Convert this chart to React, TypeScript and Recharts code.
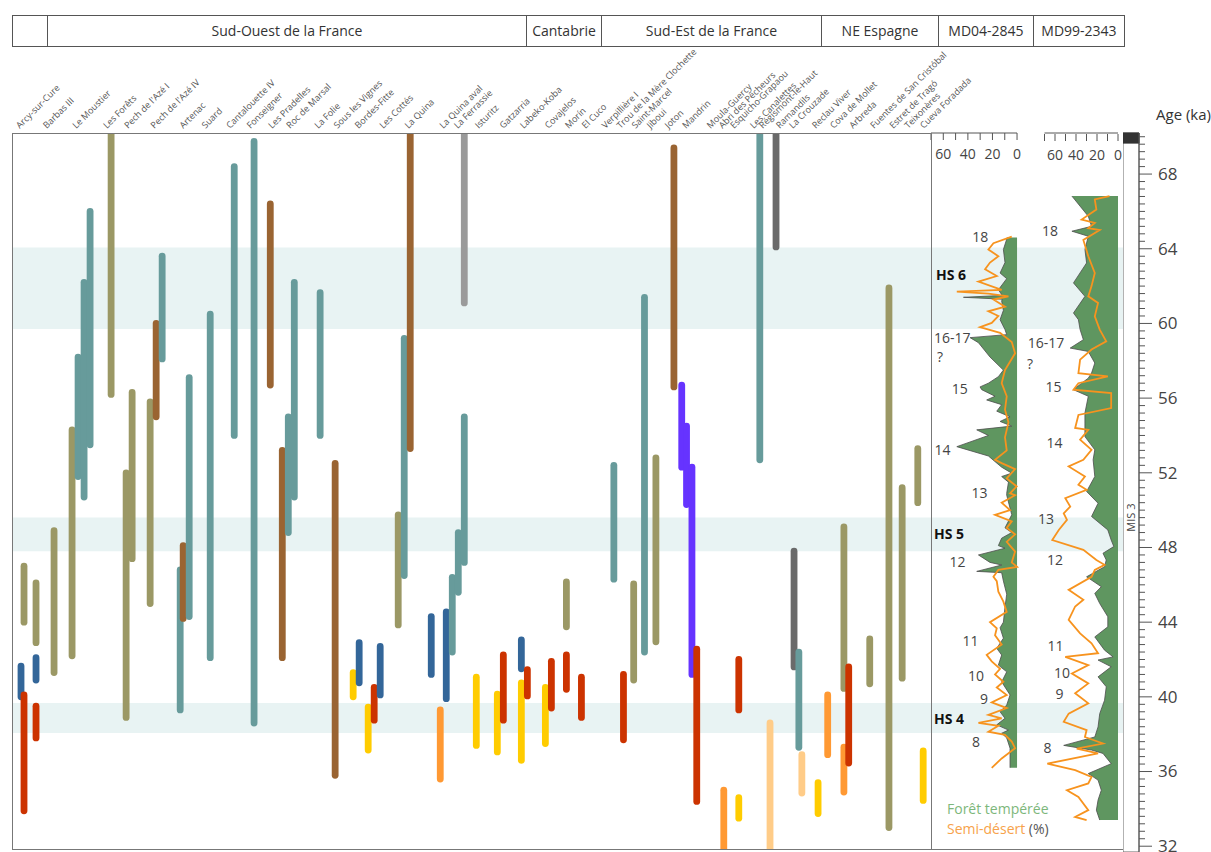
import {
  Area,
  ComposedChart,
  Line,
  ReferenceArea,
  ReferenceDot,
  ReferenceLine,
  XAxis,
  YAxis,
} from 'recharts';

type Kind =
  | 'olive'
  | 'teal'
  | 'brown'
  | 'grey'
  | 'darkgrey'
  | 'blue'
  | 'red'
  | 'yellow'
  | 'orange'
  | 'lightorange'
  | 'purple';

const FONT = '"Open Sans", "Noto Sans", sans-serif';

const kindColors: Record<Kind, string> = {
  olive: '#9b9865',
  teal: '#679b9b',
  brown: '#9a6432',
  grey: '#9a9a9a',
  darkgrey: '#6a6a6a',
  blue: '#336699',
  red: '#cc3300',
  yellow: '#ffcc00',
  orange: '#ff9933',
  lightorange: '#ffcc88',
  purple: '#6633ff',
};

// header row of the figure
const headerCells: [string, number][] = [
  ['', 34],
  ['Sud-Ouest de la France', 479],
  ['Cantabrie', 75],
  ['Sud-Est de la France', 220],
  ['NE Espagne', 117],
  ['MD04-2845', 95],
  ['MD99-2343', 91],
];

// sites along the transect: name, slot
const sites: [string, number][] = [
  ['Arcy-sur-Cure', 1.3],
  ['Barbas III', 5.8],
  ['Le Moustier', 10.7],
  ['Les Forêts', 15.8],
  ["Pech de l'Azé I", 19.3],
  ["Pech de l'Azé IV", 23.7],
  ['Artenac', 28.5],
  ['Suard', 32.2],
  ['Cantalouette IV', 36.3],
  ['Fonseigner', 39.7],
  ['Les Pradelles', 43.3],
  ['Roc de Marsal', 46.3],
  ['La Folie', 51],
  ['Sous les Vignes', 54.2],
  ['Bordes-Fitte', 57.7],
  ['Les Cottés', 61.8],
  ['La Quina', 66],
  ['La Quina aval', 71.8],
  ['La Ferrassie', 74.2],
  ['Isturitz', 77.7],
  ['Gatzarria', 81.8],
  ['Labeko-Koba', 85.2],
  ['Covajelos', 89.3],
  ['Morín', 92.7],
  ['El Cuco', 95.5],
  ['Verpillière I', 98.8],
  ['Trou de la Mère Clochette', 101.3],
  ['Saint-Marcel', 103.8],
  ['Jiboui', 106.3],
  ['Joton', 109.3],
  ['Mandrin', 112.2],
  ['Moula-Guercy', 116.3],
  ['Abri des Pêcheurs', 118.3],
  ['Esquicho-Grapaou', 120.2],
  ['Les Canalettes', 123.5],
  ['Régismont-le-Haut', 125],
  ['Ramandils', 127.8],
  ['La Crouzade', 130],
  ['Reclau Viver', 133.8],
  ['Cova de Mollet', 136.8],
  ['Arbreda', 140],
  ['Fuentes de San Cristóbal', 143.5],
  ['Estret de Tragó', 146.7],
  ['Teixonères', 149.2],
  ['Cueva Foradada', 151.8],
];

// occupation ranges: slot, older age (ka), younger age (ka), kind
const bars: [number, number, number, Kind][] = [
  [2, 47.0, 44.0, 'olive'],
  [1.5, 41.65, 40.0, 'blue'],
  [2, 40.1, 33.9, 'red'],
  [4, 46.1, 42.9, 'olive'],
  [4, 42.1, 40.9, 'blue'],
  [4, 39.5, 37.8, 'red'],
  [7, 48.9, 41.3, 'olive'],
  [10, 54.3, 42.2, 'olive'],
  [11, 58.2, 51.8, 'teal'],
  [12, 62.2, 50.7, 'teal'],
  [13, 66.0, 53.5, 'teal'],
  [16.5, 71, 56.2, 'olive'],
  [19, 52.0, 38.9, 'olive'],
  [20, 56.3, 47.4, 'olive'],
  [23, 55.8, 45.0, 'olive'],
  [24, 60.0, 55.0, 'brown'],
  [25, 63.6, 58.1, 'teal'],
  [28, 46.8, 39.3, 'teal'],
  [28.5, 48.1, 44.2, 'brown'],
  [29.5, 57.1, 44.3, 'teal'],
  [33, 60.5, 42.1, 'teal'],
  [37, 68.4, 54.0, 'teal'],
  [40.3, 69.75, 38.6, 'teal'],
  [43, 66.4, 56.7, 'brown'],
  [45, 53.2, 42.1, 'brown'],
  [46, 55.0, 48.8, 'teal'],
  [47, 62.2, 50.7, 'teal'],
  [51.3, 61.65, 54.0, 'teal'],
  [53.8, 52.5, 35.8, 'brown'],
  [56.8, 41.3, 40.0, 'yellow'],
  [57.8, 42.9, 40.75, 'blue'],
  [59.3, 39.45, 37.15, 'yellow'],
  [60.3, 40.5, 38.75, 'red'],
  [61.3, 42.7, 40.1, 'blue'],
  [64.3, 49.75, 43.85, 'olive'],
  [65.3, 59.2, 46.5, 'teal'],
  [66.3, 71, 53.3, 'brown'],
  [69.8, 44.3, 41.2, 'blue'],
  [71.3, 39.3, 35.6, 'orange'],
  [72.3, 44.55, 39.9, 'blue'],
  [73.3, 46.4, 42.4, 'teal'],
  [74.3, 48.8, 45.6, 'teal'],
  [75.3, 55.0, 47.2, 'teal'],
  [75.3, 71, 61.1, 'grey'],
  [77.3, 41.05, 37.4, 'yellow'],
  [80.8, 40.15, 37.05, 'yellow'],
  [81.8, 42.25, 38.75, 'red'],
  [84.8, 43.05, 41.5, 'blue'],
  [84.8, 40.75, 36.6, 'yellow'],
  [85.8, 41.45, 40.05, 'red'],
  [88.8, 40.5, 37.5, 'yellow'],
  [89.8, 41.9, 39.4, 'red'],
  [92.3, 46.15, 43.75, 'olive'],
  [92.3, 42.25, 40.4, 'red'],
  [94.8, 41.05, 38.9, 'red'],
  [100.2, 52.4, 46.3, 'teal'],
  [101.8, 41.2, 37.7, 'red'],
  [103.5, 46.05, 40.9, 'olive'],
  [105.3, 61.4, 42.4, 'teal'],
  [107.2, 52.8, 42.95, 'olive'],
  [110.2, 69.4, 56.6, 'brown'],
  [111.5, 56.7, 52.3, 'purple'],
  [112.3, 54.5, 50.3, 'purple'],
  [113.2, 52.3, 41.2, 'purple'],
  [114, 42.55, 34.4, 'red'],
  [118.5, 35.0, 31, 'orange'],
  [121, 42.0, 39.3, 'red'],
  [121, 34.6, 33.5, 'yellow'],
  [124.5, 71, 52.7, 'teal'],
  [126.2, 38.6, 31, 'lightorange'],
  [127.2, 71, 64.1, 'darkgrey'],
  [130.2, 47.8, 41.6, 'darkgrey'],
  [131, 42.4, 37.3, 'teal'],
  [131.5, 36.9, 34.85, 'lightorange'],
  [134.2, 35.4, 33.75, 'yellow'],
  [135.8, 40.1, 36.9, 'orange'],
  [138.5, 49.1, 40.45, 'olive'],
  [138.5, 37.3, 34.9, 'orange'],
  [139.3, 41.6, 36.45, 'red'],
  [142.8, 43.1, 40.7, 'olive'],
  [146, 61.9, 33.0, 'olive'],
  [148.2, 51.2, 41.0, 'olive'],
  [150.8, 53.3, 50.4, 'olive'],
  [151.7, 37.1, 34.45, 'yellow'],
];

// Heinrich stadials: label, from, to (ka)
const hsBands: [string, number, number][] = [
  ['HS 6', 59.7, 64.07],
  ['HS 5', 47.8, 49.6],
  ['HS 4', 38.06, 39.67],
];

// MD04-2845: [age ka, %]
const forestA: [number, number][] = [
  [64.6, 8], [63.96, 11.1], [63.26, 9.8], [62.7, 13.8], [62.4, 8.4], [61.8, 15.2],
  [61.5, 12], [61.4, 43.6], [61.3, 12], [61.2, 12.5], [60.7, 11.1], [60.2, 13.8],
  [59.67, 9.8], [59.4, 8.4], [59.24, 38.2], [58.97, 31.4], [58.2, 22], [57.5, 11.1],
  [57.15, 15.2], [56.8, 23.3], [56.6, 30.1], [56.45, 28.7], [56.1, 17.9], [55.9, 24.7],
  [55.65, 12.5], [55.3, 16.5], [55.0, 5.7], [54.75, 13.8], [54.5, 4.3], [54.3, 32.8],
  [54.0, 23.3], [53.4, 49], [52.9, 23.3], [52.3, 12.5], [51.98, 4.3], [51.8, 12.5],
  [51.5, 7], [50.9, 8.4], [50.8, 8.4], [49.75, 4.3], [49.05, 9.8], [48.8, 4.3],
  [48.5, 12.5], [48.1, 15.2], [47.96, 9.8], [47.6, 31.4], [47.2, 22], [47.06, 12.5],
  [46.72, 32.8], [46.65, 12.5], [46.2, 11.1], [45.5, 8.4], [44.8, 9.8], [44.0, 11.1],
  [43.7, 13.8], [43.14, 11.1], [42.6, 16.5], [42.24, 12.5], [41.7, 15.2], [41.34, 8.4],
  [40.8, 12.5], [40.1, 5.7], [39.56, 8.4], [39.2, 13.8], [38.85, 9.8], [38.5, 16.5],
  [38.22, 7], [38.05, 12.5], [37.8, 8.4], [37.25, 5.7], [36.2, 5.7],
];

const semiA: [number, number][] = [
  [64.65, 4.3], [64.3, 19.2], [63.96, 23.3], [63.6, 15.2], [63.26, 22], [62.9, 26],
  [62.54, 16.5], [62.24, 31.4], [61.8, 12.5], [61.7, 49], [61.6, 23.3], [61.45, 7],
  [61.28, 19.2], [60.9, 9.8], [60.65, 23.3], [60.4, 15.2], [60.03, 20.6], [59.8, 30.1],
  [59.5, 13.8], [59.0, 4.3], [58.4, 1.6], [57.5, 9.8], [56.8, 12.5], [56.1, 8.4],
  [55.38, 9.8], [54.7, 7], [53.9, 9.8], [53.2, 8.4], [52.7, 17.9], [52.52, 12.5],
  [52.2, 1.6], [51.7, 8.4], [51.27, 0.3], [50.9, 5.7], [50.8, 1.6], [50.4, 12.5],
  [50.0, 5.7], [49.75, 17.9], [49.4, 4.3], [49.05, 8.4], [48.7, 1.6], [48.3, 8.4],
  [47.78, 1.6], [47.2, 4.3], [46.96, 0], [46.8, 15.2], [46.43, 19.2], [46.2, 16.5],
  [45.63, 15.2], [45.1, 11.1], [44.55, 8.4], [44.0, 22], [43.67, 16.5], [43.3, 17.9],
  [42.8, 12.5], [42.25, 24.7], [41.9, 20.6], [41.5, 13.8], [41.2, 17.9], [40.81, 11.1],
  [40.5, 16.5], [40.1, 8.4], [39.7, 20.6], [39.4, 8.4], [39.03, 23.3], [38.85, 12.5],
  [38.6, 31.4], [38.45, 15.2], [38.13, 23.3], [37.96, 9.8], [37.6, 4.3], [37.25, 1.6],
  [36.7, 12.5], [36.2, 20.6],
];

// MD99-2343: [age ka, %]
const forestB: [number, number][] = [
  [66.82, 43.9], [66.28, 36.1], [65.74, 28.3], [65.2, 25.2], [64.94, 43.9], [64.67, 28.3],
  [63.96, 31.5], [63.24, 29.9], [62.17, 42.4], [61.45, 31.5], [60.56, 42.4], [60.2, 37.7],
  [59.67, 36.1], [59.13, 33], [58.68, 45.5], [58.5, 28.3], [57.88, 22.1], [57.34, 25.2],
  [57.07, 28.3], [56.8, 34.6], [56.45, 42.4], [56.1, 28.3], [55.2, 31.5], [54.66, 31.5],
  [53.94, 31.5], [53.23, 22.1], [52.7, 23.7], [51.8, 22.1], [51.0, 29.9], [50.37, 19],
  [49.66, 25.2], [48.94, 9.7], [48.4, 6.5], [48.05, 4], [47.69, 14.3], [47.33, 11.2],
  [46.97, 12.8], [46.43, 29.9], [45.9, 15.9], [45.54, 22.1], [45.0, 17.4], [44.29, 9.7],
  [43.75, 9.7], [43.21, 22.1], [42.5, 12.8], [42.14, 4.7], [41.97, 19], [41.61, 6.5],
  [41.07, 19], [40.54, 11.2], [39.82, 12.8], [39.1, 17.4], [38.39, 19], [37.85, 22.1],
  [37.4, 51.7], [37.15, 25.2], [36.97, 14.3], [36.42, 6.5], [35.89, 28.3], [35.54, 19],
  [35.0, 15.9], [34.47, 19], [33.93, 20.6], [33.4, 17.4],
];

const semiB: [number, number][] = [
  [66.82, 8.1], [66.64, 22.1], [66.1, 20.6], [65.56, 34.6], [65.38, 22.1], [65.1, 28.3],
  [65.0, 17.4], [64.47, 33], [63.6, 28.3], [62.7, 22.1], [62.0, 25.2], [61.45, 28.3],
  [61.1, 19], [60.38, 22.1], [59.67, 17.4], [59.04, 11.2], [58.6, 25.2], [58.06, 36.1],
  [57.34, 37.7], [57.17, 9.7], [56.8, 37.7], [56.45, 42.4], [56.27, 6.5], [55.47, 6.5],
  [55.1, 37.7], [54.4, 40.8], [54.3, 28.3], [53.77, 36.1], [53.23, 25.2], [52.7, 33],
  [52.34, 47], [51.8, 31.5], [51.36, 37.7], [51.09, 29.9], [50.64, 50.2], [50.19, 45.5],
  [49.83, 51.7], [49.48, 48.6], [48.94, 56.4], [48.4, 62.6], [47.87, 33], [47.33, 20.6],
  [47.07, 12.8], [46.8, 22.1], [46.43, 25.2], [45.73, 47], [45.2, 33], [44.84, 40.8],
  [44.12, 47], [43.4, 36.1], [42.87, 25.2], [42.34, 19], [42.14, 50.2], [41.7, 28.3],
  [41.25, 43.9], [40.72, 28.3], [40.19, 40.8], [39.65, 28.3], [39.1, 47], [38.66, 51.7],
  [38.22, 29.9], [37.85, 31.5], [37.5, 14.3], [37.23, 39.3], [36.97, 19], [36.42, 67.3],
  [36.07, 40.8], [35.71, 25.2], [35.36, 28.3], [35.0, 48.6], [34.64, 37.7], [33.93, 28.3],
  [33.57, 40.8], [33.4, 29.9],
];

// annotations in the pollen panels: text, %, age, bold
const labelsA: [string, number, number, boolean][] = [
  ['18', 30, 64.6, false],
  ['HS 6', 53.7, 62.6, true],
  ['16-17', 52.8, 59.24, false],
  ['?', 62.6, 58.2, false],
  ['15', 46.7, 56.5, false],
  ['14', 60.6, 53.2, false],
  ['13', 30.5, 50.9, false],
  ['HS 5', 55.3, 48.7, true],
  ['12', 48.4, 47.2, false],
  ['11', 37.8, 43.0, false],
  ['10', 33.3, 41.1, false],
  ['9', 26.8, 39.9, false],
  ['HS 4', 55.3, 38.8, true],
  ['8', 33.3, 37.6, false],
];

const labelsB: [string, number, number, boolean][] = [
  ['18', 64.8, 64.94, false],
  ['16-17', 68.6, 58.95, false],
  ['?', 83.8, 57.8, false],
  ['15', 61.4, 56.6, false],
  ['14', 60.5, 53.6, false],
  ['13', 68.6, 49.5, false],
  ['12', 60, 47.33, false],
  ['11', 59.5, 42.7, false],
  ['10', 53.3, 41.25, false],
  ['9', 55.7, 40.15, false],
  ['8', 67.1, 37.23, false],
];

const pctTicks = [0, 10, 20, 30, 40, 50, 60, 70];
const majorAges = [32, 36, 40, 44, 48, 52, 56, 60, 64, 68];
const ageTicks = Array.from({ length: 96 }, (_, i) => Math.round((32 + i * 0.4) * 10) / 10);

const ageDomain: [number, number] = [31.85, 70.2];

const toRows = (pts: [number, number][]) => pts.map(([age, v]) => ({ age, v }));

function SiteTick({ x, y, payload }: any) {
  const site = sites.find(([, slot]) => slot === payload.value);
  const ty = y - 4;
  return (
    <text x={x} y={ty} transform={`rotate(-45 ${x} ${ty})`} fontSize={9} fill="#555" fontFamily={FONT}>
      {site ? site[0] : ''}
    </text>
  );
}

function AgeTick({ x, y, payload }: any) {
  const v = payload.value;
  const major = majorAges.includes(v);
  return (
    <g>
      <line x1={x} x2={x + (major ? 13 : 6)} y1={y} y2={y} stroke="#555" />
      {major ? (
        <text x={x + 19} y={y} dy="0.35em" fontSize={17} fill="#444" fontFamily={FONT}>
          {v}
        </text>
      ) : null}
    </g>
  );
}

const textShape = (text: string, bold: boolean) => (p: any) => (
  <text
    x={p.cx}
    y={p.cy}
    dy="0.35em"
    textAnchor="middle"
    fontSize={14}
    fontWeight={bold ? 700 : 400}
    fill={bold ? '#111' : '#444'}
    fontFamily={FONT}
  >
    {text}
  </text>
);

function SitesChart() {
  return (
    <ComposedChart width={1000} height={852} margin={{ top: 132, right: 69, bottom: 3, left: 12 }}>
      <XAxis
        type="number"
        dataKey="slot"
        domain={[0, 153]}
        orientation="top"
        height={1}
        ticks={sites.map(([, slot]) => slot)}
        interval={0}
        tickSize={0}
        tickMargin={0}
        axisLine={false}
        tickLine={false}
        tick={<SiteTick />}
        allowDataOverflow
      />
      <YAxis type="number" domain={ageDomain} hide width={0} allowDataOverflow />
      {hsBands.map(([name, y1, y2]) => (
        <ReferenceArea key={name} y1={y1} y2={y2} fill="#e8f3f3" fillOpacity={1} stroke="none" />
      ))}
      {bars.map(([slot, from, to, kind], i) => (
        <Line
          key={i}
          data={[
            { slot, age: from },
            { slot, age: to },
          ]}
          dataKey="age"
          stroke={kindColors[kind]}
          strokeWidth={6.8}
          strokeLinecap="round"
          dot={false}
          activeDot={false}
          isAnimationActive={false}
        />
      ))}
    </ComposedChart>
  );
}

function PollenChart() {
  const axisProps = {
    type: 'number' as const,
    reversed: true,
    orientation: 'top' as const,
    mirror: true,
    height: 1,
    ticks: pctTicks,
    interval: 0,
    tickSize: 7,
    tickMargin: 9,
    axisLine: false,
    tickLine: { stroke: '#555' },
    tick: { fontSize: 14, fill: '#444', fontFamily: FONT },
    tickFormatter: (v: number) => (v % 20 === 0 ? String(v) : ''),
    allowDataOverflow: true,
  };
  return (
    <ComposedChart layout="vertical" width={223} height={852} margin={{ top: 133, right: 0, bottom: 3, left: 31 }}>
      <XAxis xAxisId="a" domain={[-86.2, 70]} {...axisProps} />
      <XAxis xAxisId="b" domain={[-4.76, 178.1]} {...axisProps} />
      <YAxis type="number" dataKey="age" domain={ageDomain} reversed hide width={0} allowDataOverflow />
      {hsBands.map(([name, y1, y2]) => (
        <ReferenceArea key={name} xAxisId="a" y1={y1} y2={y2} fill="#e8f3f3" fillOpacity={1} stroke="none" />
      ))}
      <ReferenceLine xAxisId="a" segment={[{ x: 70, y: ageDomain[1] }, { x: 0, y: ageDomain[1] }]} stroke="#555" ifOverflow="visible" />
      <ReferenceLine xAxisId="b" segment={[{ x: 70, y: ageDomain[1] }, { x: 0, y: ageDomain[1] }]} stroke="#555" ifOverflow="visible" />
      <Area
        xAxisId="a"
        data={toRows(forestA)}
        dataKey="v"
        type="linear"
        baseValue={0}
        fill="#5f9660"
        fillOpacity={1}
        stroke="#4d4d4d"
        strokeWidth={0.8}
        dot={false}
        activeDot={false}
        isAnimationActive={false}
      />
      <Area
        xAxisId="b"
        data={toRows(forestB)}
        dataKey="v"
        type="linear"
        baseValue={0}
        fill="#5f9660"
        fillOpacity={1}
        stroke="#4d4d4d"
        strokeWidth={0.8}
        dot={false}
        activeDot={false}
        isAnimationActive={false}
      />
      <Line xAxisId="a" data={toRows(semiA)} dataKey="v" type="linear" stroke="#f7931e" strokeWidth={1.8} dot={false} activeDot={false} isAnimationActive={false} />
      <Line xAxisId="b" data={toRows(semiB)} dataKey="v" type="linear" stroke="#f7931e" strokeWidth={1.8} dot={false} activeDot={false} isAnimationActive={false} />
      {labelsA.map(([t, x, y, bold]) => (
        <ReferenceDot key={`a${t}`} xAxisId="a" x={x} y={y} r={0} shape={textShape(t, bold)} />
      ))}
      {labelsB.map(([t, x, y, bold]) => (
        <ReferenceDot key={`b${t}`} xAxisId="b" x={x} y={y} r={0} shape={textShape(t, bold)} />
      ))}
    </ComposedChart>
  );
}

function AgeAxisChart() {
  return (
    <ComposedChart width={88} height={852} margin={{ top: 133, right: 0, bottom: 0, left: 0 }}>
      <XAxis type="number" dataKey="x" domain={[0, 1]} hide height={0} />
      <YAxis
        type="number"
        dataKey="age"
        orientation="right"
        width={72}
        domain={[ageDomain[0] - 0.16, ageDomain[1]]}
        ticks={ageTicks}
        interval={0}
        tickSize={0}
        tickMargin={0}
        tickLine={false}
        axisLine={{ stroke: '#555' }}
        tick={<AgeTick />}
        allowDataOverflow
      />
      <ReferenceArea x1={0} x2={1} y1={ageDomain[0] - 0.16} y2={ageDomain[1]} fill="#fff" stroke="#666" />
      <ReferenceArea x1={0} x2={1} y1={69.66} y2={ageDomain[1]} fill="#333" fillOpacity={1} stroke="#333" />
      <ReferenceDot
        x={0.5}
        y={49.6}
        r={0}
        shape={(p: any) => (
          <text
            x={p.cx}
            y={p.cy}
            dy="0.35em"
            textAnchor="middle"
            transform={`rotate(-90 ${p.cx} ${p.cy})`}
            fontSize={11}
            fill="#444"
            fontFamily={FONT}
          >
            MIS 3
          </text>
        )}
      />
      <Line data={[{ x: 0.5, age: 50 }]} dataKey="age" stroke="none" dot={false} activeDot={false} isAnimationActive={false} />
    </ComposedChart>
  );
}

export default function App() {
  return (
    <div
      style={{
        position: 'absolute',
        left: 0,
        top: 0,
        width: 1211,
        height: 852,
        background: '#fff',
        overflow: 'hidden',
        fontFamily: FONT,
        color: '#333',
      }}
    >
      <div style={{ position: 'absolute', left: 12, top: 15, height: 32, display: 'flex', border: '1px solid #555', boxSizing: 'border-box' }}>
        {headerCells.map(([label, w], i) => (
          <div
            key={i}
            style={{
              width: w,
              borderLeft: i === 0 ? 'none' : '1px solid #555',
              boxSizing: 'border-box',
              fontSize: 14,
              lineHeight: '30px',
              textAlign: 'center',
              whiteSpace: 'nowrap',
            }}
          >
            {label}
          </div>
        ))}
      </div>

      <div style={{ position: 'absolute', left: 0, top: 0 }}>
        <SitesChart />
      </div>
      <div style={{ position: 'absolute', left: 900, top: 0 }}>
        <PollenChart />
      </div>
      <div style={{ position: 'absolute', left: 1123, top: 0 }}>
        <AgeAxisChart />
      </div>

      <div style={{ position: 'absolute', left: 12, top: 133, width: 920, height: 717, border: '1px solid #777', boxSizing: 'border-box' }} />
      <div style={{ position: 'absolute', left: 931, top: 849, width: 192, borderTop: '1px solid #777' }} />

      <div style={{ position: 'absolute', left: 1156, top: 104, fontSize: 15, color: '#333' }}>Age (ka)</div>
      <div style={{ position: 'absolute', left: 947, top: 799, fontSize: 14, color: '#7db77b' }}>Forêt tempérée</div>
      <div style={{ position: 'absolute', left: 947, top: 819, fontSize: 14, color: '#f7a24b' }}>
        Semi-désert <span style={{ color: '#555' }}>(%)</span>
      </div>
    </div>
  );
}
